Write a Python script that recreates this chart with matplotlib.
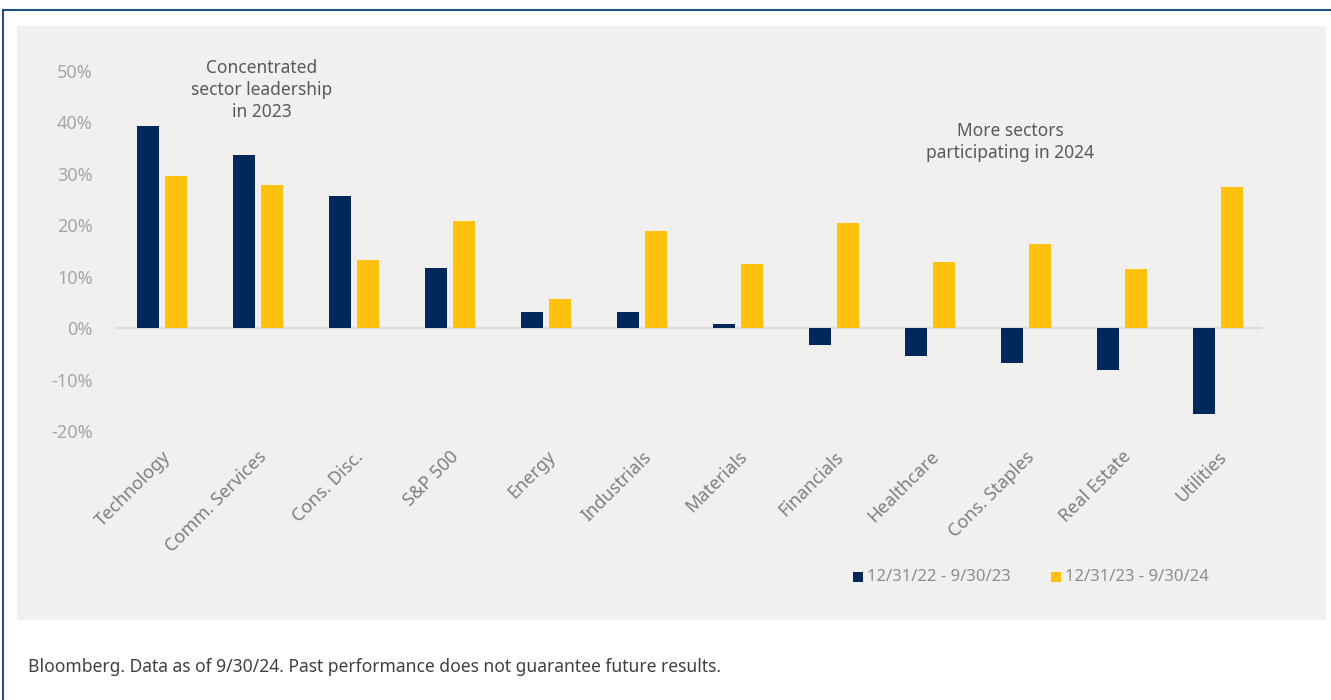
import matplotlib
matplotlib.use("Agg")
import matplotlib.pyplot as plt
from matplotlib.patches import Rectangle
from matplotlib.lines import Line2D
import numpy as np

plt.rcParams['font.family'] = ['Noto Sans', 'DejaVu Sans']

sectors = ["Technology", "Comm. Services", "Cons. Disc.", "S&P 500", "Energy",
           "Industrials", "Materials", "Financials", "Healthcare", "Cons. Staples",
           "Real Estate", "Utilities"]
ret_2023 = [39.4, 33.7, 25.7, 11.7, 3.1, 3.1, 0.9, -3.2, -5.4, -6.7, -8.1, -16.7]
ret_2024 = [29.6, 27.8, 13.2, 20.8, 5.6, 18.9, 12.5, 20.4, 12.8, 16.3, 11.5, 27.4]
series_labels = ["12/31/22 - 9/30/23", "12/31/23 - 9/30/24"]
yticks = [-20, -10, 0, 10, 20, 30, 40, 50]

NAVY = "#00285a"
GOLD = "#ffc10e"
BG = "#f1f0ef"

W, H = 1331, 700
fig = plt.figure(figsize=(W / 100, H / 100), dpi=100)
fig.patch.set_facecolor("white")

# outer border lines (left and top)
fig.add_artist(Line2D([2.5 / W, 2.5 / W], [0, 1 - 10 / H], transform=fig.transFigure,
                      color="#1f4e8c", lw=1.5))
fig.add_artist(Line2D([2.5 / W, 1], [1 - 10 / H, 1 - 10 / H], transform=fig.transFigure,
                      color="#1f4e8c", lw=1.5))
# gray panel
fig.add_artist(Rectangle((17 / W, 1 - 620 / H), (1326 - 17) / W, (620 - 26) / H,
                         transform=fig.transFigure, facecolor=BG, edgecolor="none", zorder=0))

# axes: x 115..1263, y 71 (50%) .. 431 (-20%)
ax = fig.add_axes([115 / W, 1 - 431 / H, (1263 - 115) / W, (431 - 71) / H])
ax.set_facecolor("none")
x = np.arange(len(sectors))
bw = 0.23
off = 0.146
ax.bar(x - off, ret_2023, width=bw, color=NAVY, zorder=3)
ax.bar(x + off, ret_2024, width=bw, color=GOLD, zorder=3)
ax.set_xlim(-0.49, 11.47)
ax.set_ylim(-20, 50)
ax.axhline(0, color="#d9d9d9", lw=1.2, zorder=2)
for s in ax.spines.values():
    s.set_visible(False)
ax.set_yticks(yticks)
ax.set_yticklabels([f"{v}%" for v in yticks], color="#a6a6a6", fontsize=13)
ax.tick_params(axis="y", length=0, pad=16)
ax.set_xticks(x)
ax.set_xticklabels(sectors, rotation=45, ha="right", rotation_mode="anchor",
                   color="#7f7f7f", fontsize=13)
ax.tick_params(axis="x", length=0, pad=12)

# annotations
fig.text(262 / W, 1 - 90 / H, "Concentrated\nsector leadership\nin 2023", ha="center",
         va="center", fontsize=12.5, color="#595959", linespacing=1.3)
fig.text(1010 / W, 1 - 142 / H, "More sectors\nparticipating in 2024", ha="center",
         va="center", fontsize=12.5, color="#595959", linespacing=1.35)

# legend
for sx, col, lab in [(853, NAVY, series_labels[0]), (1051, GOLD, series_labels[1])]:
    fig.add_artist(Rectangle((sx / W, 1 - 582 / H), 10 / W, 10 / H,
                             transform=fig.transFigure, facecolor=col, edgecolor="none"))
    fig.text((sx + 14) / W, 1 - 577 / H, lab, ha="left", va="center", fontsize=12,
             color="#8c8c8c")

# footer
fig.text(28 / W, 1 - 667 / H,
         "Bloomberg. Data as of 9/30/24. Past performance does not guarantee future results.",
         ha="left", va="center", fontsize=12.6, color="#404040")

fig.savefig("out.png", dpi=100, facecolor="white")
